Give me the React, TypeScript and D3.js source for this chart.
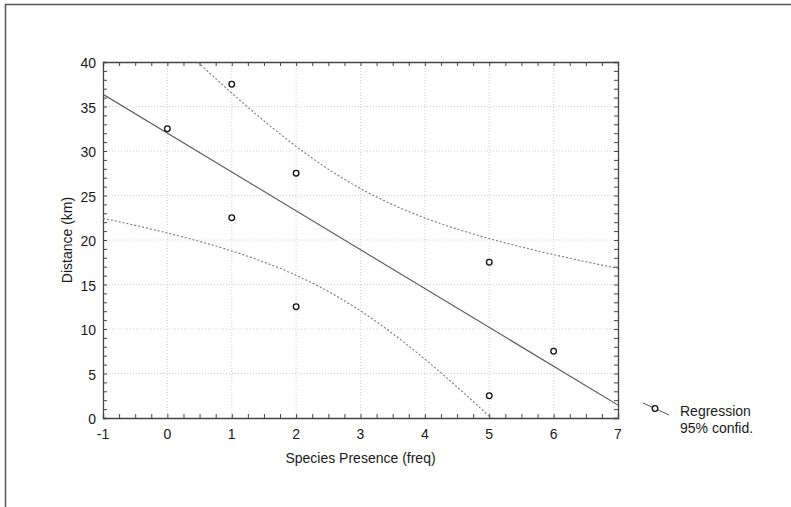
import React, { useEffect, useRef } from "react";
import * as d3 from "d3";

// observed points
const presence = [0, 1, 1, 2, 2, 5, 5, 6];
const distance = [32.5, 37.5, 22.5, 27.5, 12.5, 17.5, 2.5, 7.5];
const xTicks = [-1, 0, 1, 2, 3, 4, 5, 6, 7];
const yTicks = [0, 5, 10, 15, 20, 25, 30, 35, 40];
const legendLabels = ["Regression", "95% confid."];

const App = () => {
  const svgRef = useRef<SVGSVGElement>(null);
  const svgWidth = 791;
  const svgHeight = 507;

  useEffect(() => {
    const margin = { top: 62, right: 173, bottom: 89, left: 103 };
    const innerWidth = svgWidth - margin.left - margin.right;
    const innerHeight = svgHeight - margin.top - margin.bottom;
    const font = "'Liberation Sans', Arial, sans-serif";

    const svg = d3.select(svgRef.current).attr("width", svgWidth).attr("height", svgHeight);
    svg.selectAll("*").remove();

    // outer frame (only top and left edges are visible)
    svg.append("path")
      .attr("d", `M5.5,${svgHeight} L5.5,4.5 L${svgWidth},4.5`)
      .attr("fill", "none")
      .attr("stroke", "#555")
      .attr("stroke-width", 1.5);

    const xScale = d3.scaleLinear().domain([-1, 7]).range([0, innerWidth]);
    const yScale = d3.scaleLinear().domain([0, 40]).range([innerHeight, 0]);

    const g = svg.append("g").attr("transform", `translate(${margin.left},${margin.top})`);

    // dotted grid
    g.selectAll(".vgrid")
      .data(xTicks.slice(1, -1))
      .join("line")
      .attr("x1", (d) => xScale(d))
      .attr("x2", (d) => xScale(d))
      .attr("y1", 0)
      .attr("y2", innerHeight)
      .attr("stroke", "#c4c4c4")
      .attr("stroke-width", 0.8)
      .attr("stroke-dasharray", "1,2");
    g.selectAll(".hgrid")
      .data(yTicks.slice(1, -1))
      .join("line")
      .attr("x1", 0)
      .attr("x2", innerWidth)
      .attr("y1", (d) => yScale(d))
      .attr("y2", (d) => yScale(d))
      .attr("stroke", "#c4c4c4")
      .attr("stroke-width", 0.8)
      .attr("stroke-dasharray", "1,2");

    // axes with inward ticks on all four sides
    const xMinor = d3.range(-1, 7.01, 0.25);
    const yMinor = d3.range(0, 40.01, 1);
    const tickLen = 4;
    const axisColor = "#444";

    g.append("g").attr("transform", `translate(0,${innerHeight})`)
      .call(d3.axisBottom(xScale).tickValues(xMinor).tickSize(-tickLen).tickFormat(() => ""));
    g.append("g")
      .call(d3.axisTop(xScale).tickValues(xMinor).tickSize(-tickLen).tickFormat(() => ""));
    g.append("g")
      .call(d3.axisLeft(yScale).tickValues(yMinor).tickSize(-tickLen).tickFormat(() => ""));
    g.append("g").attr("transform", `translate(${innerWidth},0)`)
      .call(d3.axisRight(yScale).tickValues(yMinor).tickSize(-tickLen).tickFormat(() => ""));
    g.selectAll(".domain").attr("stroke", axisColor).attr("stroke-width", 1.3);
    g.selectAll(".tick line").attr("stroke", axisColor);

    // tick labels
    g.selectAll(".xlab")
      .data(xTicks)
      .join("text")
      .attr("x", (d) => xScale(d))
      .attr("y", innerHeight + 21)
      .attr("text-anchor", "middle")
      .attr("font-family", font)
      .attr("font-size", 14)
      .attr("fill", "#1a1a1a")
      .text((d) => d);
    g.selectAll(".ylab")
      .data(yTicks)
      .join("text")
      .attr("x", -7)
      .attr("y", (d) => yScale(d) + 6)
      .attr("text-anchor", "end")
      .attr("font-family", font)
      .attr("font-size", 14)
      .attr("fill", "#1a1a1a")
      .text((d) => d);

    // axis titles
    svg.append("text")
      .attr("x", margin.left + xScale(3))
      .attr("y", 463)
      .attr("text-anchor", "middle")
      .attr("font-family", font)
      .attr("font-size", 14)
      .attr("fill", "#1a1a1a")
      .text("Species Presence (freq)");
    svg.append("text")
      .attr("transform", `translate(72,${margin.top + yScale(20)}) rotate(-90)`)
      .attr("text-anchor", "middle")
      .attr("font-family", font)
      .attr("font-size", 14)
      .attr("fill", "#1a1a1a")
      .text("Distance (km)");

    // least squares fit and 95% confidence band of the mean
    const n = presence.length;
    const mx = d3.mean(presence) as number;
    const my = d3.mean(distance) as number;
    const sxx = d3.sum(presence, (x) => (x - mx) ** 2);
    const sxy = d3.sum(presence, (x, i) => (x - mx) * (distance[i] - my));
    const slope = sxy / sxx;
    const intercept = my - slope * mx;
    const sse = d3.sum(presence, (x, i) => (distance[i] - (intercept + slope * x)) ** 2);
    const s = Math.sqrt(sse / (n - 2));
    const t = 2.447; // t(0.975, 6 df)
    const fit = (x: number) => intercept + slope * x;
    const half = (x: number) => t * s * Math.sqrt(1 / n + (x - mx) ** 2 / sxx);

    svg.append("defs").append("clipPath").attr("id", "plotClip")
      .append("rect").attr("width", innerWidth).attr("height", innerHeight);
    const plot = g.append("g").attr("clip-path", "url(#plotClip)");

    const xs = d3.range(-1, 7.001, 0.05);
    const line = d3.line<number[]>().x((d) => xScale(d[0])).y((d) => yScale(d[1]));

    plot.append("path")
      .attr("d", line([[-1, fit(-1)], [7, fit(7)]]))
      .attr("fill", "none")
      .attr("stroke", "#555")
      .attr("stroke-width", 1.1);

    [1, -1].forEach((sign) => {
      plot.append("path")
        .attr("d", line(xs.map((x) => [x, fit(x) + sign * half(x)])))
        .attr("fill", "none")
        .attr("stroke", "#777")
        .attr("stroke-width", 1.1)
        .attr("stroke-dasharray", "2,2");
    });

    // points
    g.selectAll(".pt")
      .data(presence)
      .join("circle")
      .attr("cx", (d) => xScale(d))
      .attr("cy", (d, i) => yScale(distance[i]))
      .attr("r", 2.8)
      .attr("fill", "white")
      .attr("stroke", "#111")
      .attr("stroke-width", 1.3);

    // legend
    const lg = svg.append("g").attr("transform", "translate(643,403)");
    lg.append("line")
      .attr("x1", 0).attr("y1", 0).attr("x2", 26).attr("y2", 12)
      .attr("stroke", "#555");
    lg.append("circle")
      .attr("cx", 12).attr("cy", 5.5).attr("r", 2.8)
      .attr("fill", "white").attr("stroke", "#111").attr("stroke-width", 1.3);
    lg.selectAll("text")
      .data(legendLabels)
      .join("text")
      .attr("x", 37)
      .attr("y", (d, i) => 13 + i * 17)
      .attr("font-family", font)
      .attr("font-size", 14)
      .attr("fill", "#1a1a1a")
      .text((d) => d);
  }, []);

  return (
    <svg ref={svgRef} style={{ position: "absolute", left: 0, top: 0, background: "white" }}></svg>
  );
};

export default App;
